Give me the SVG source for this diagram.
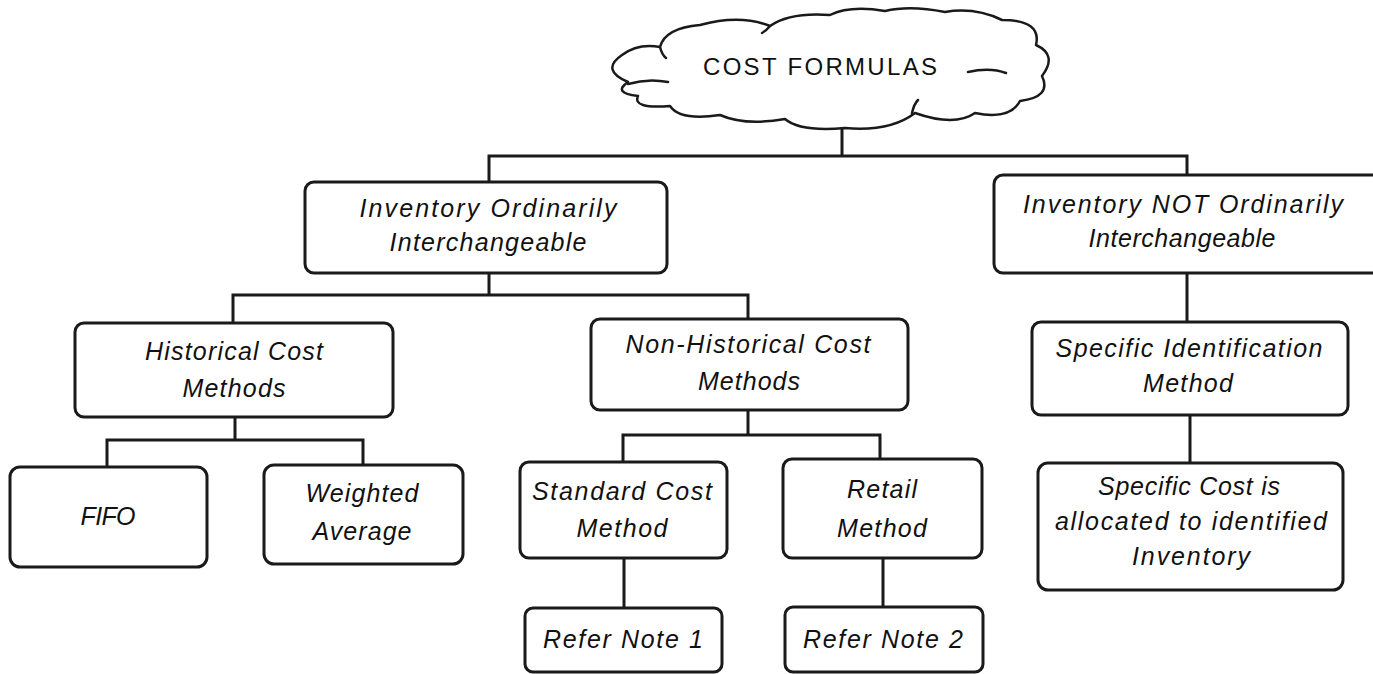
<svg xmlns="http://www.w3.org/2000/svg" width="1373" height="674" viewBox="0 0 1373 674">
<style>
.box{fill:#fff;stroke:#1a1a1a;stroke-width:3}
.ln{fill:none;stroke:#1a1a1a;stroke-width:3;stroke-linecap:square}
.cl{fill:#fff;stroke:#1a1a1a;stroke-width:2.5;stroke-linejoin:round}
.hk{fill:none;stroke:#1a1a1a;stroke-width:2.5;stroke-linecap:round}
text{font-family:"Liberation Sans",Arial,sans-serif;font-style:italic;font-size:25px;fill:#111;text-anchor:middle}
</style>
<rect width="1373" height="674" fill="#fff"/>
<g id="connectors">
<path class="ln" d="M842,128 V156 M489,156 H1187 M489,156 V182 M1187,156 V175"/>
<path class="ln" d="M489,273 V295 M233,295 H748 M233,295 V323 M748,295 V319"/>
<path class="ln" d="M235,417 V440 M107,440 H363 M107,440 V467 M363,440 V465"/>
<path class="ln" d="M748,410 V435 M623,435 H880 M623,435 V462 M880,435 V459"/>
<path class="ln" d="M624,558 V608 M883,558 V607"/>
<path class="ln" d="M1187,273 V322 M1190,415 V463"/>
</g>
<g id="cost-formulas">
<path class="cl" d="M628,82 Q600,70 622,55 Q638,43 660,47 Q665,28 700,25 Q740,14 770,26 Q790,12 830,15 Q850,5 885,11 Q910,5 945,12 Q975,7 1002,20 Q1042,20 1036,45 Q1058,55 1042,76 Q1052,97 1020,101 Q1010,120 975,113 Q955,127 915,113 Q890,132 845,128 Q800,132 785,119 Q745,126 720,115 Q680,121 670,106 Q632,109 638,96 Q612,93 628,82 Z"/>
<path class="hk" d="M628,84 Q648,78 668,82 M968,72 Q990,67 1006,73 M912,113 Q914,104 918,100 M660,47 Q662,55 666,58 M770,26 Q766,31 762,33"/>
<text x="820" y="75" textLength="234" style="font-style:normal;font-size:24px">COST FORMULAS</text>
</g>
<g id="inv-ordinarily">
<rect class="box" x="305" y="182" width="362" height="91" rx="9"/>
<text x="488" y="217" textLength="257">Inventory Ordinarily</text>
<text x="488" y="251" textLength="197">Interchangeable</text>
</g>
<g id="inv-not-ordinarily">
<rect class="box" x="994" y="175" width="395" height="98" rx="9"/>
<text x="1183" y="213" textLength="320">Inventory NOT Ordinarily</text>
<text x="1182" y="247" textLength="187">Interchangeable</text>
</g>
<g id="historical">
<rect class="box" x="75" y="323" width="318" height="94" rx="9"/>
<text x="234" y="360" textLength="178">Historical Cost</text>
<text x="234" y="397" textLength="103">Methods</text>
</g>
<g id="non-historical">
<rect class="box" x="591" y="319" width="317" height="91" rx="9"/>
<text x="748" y="353" textLength="245">Non-Historical Cost</text>
<text x="749" y="390" textLength="102">Methods</text>
</g>
<g id="specific-identification">
<rect class="box" x="1032" y="322" width="316" height="93" rx="9"/>
<text x="1189" y="357" textLength="267">Specific Identification</text>
<text x="1188" y="392" textLength="90">Method</text>
</g>
<g id="fifo">
<rect class="box" x="10" y="467" width="197" height="100" rx="10"/>
<text x="108" y="525" textLength="55">FIFO</text>
</g>
<g id="weighted-average">
<rect class="box" x="264" y="465" width="199" height="99" rx="10"/>
<text x="362" y="502" textLength="113">Weighted</text>
<text x="362" y="540" textLength="99">Average</text>
</g>
<g id="standard-cost">
<rect class="box" x="520" y="462" width="207" height="96" rx="9"/>
<text x="622" y="500" textLength="180">Standard Cost</text>
<text x="622" y="537" textLength="91">Method</text>
</g>
<g id="retail">
<rect class="box" x="783" y="459" width="199" height="99" rx="9"/>
<text x="882" y="498" textLength="70">Retail</text>
<text x="882" y="537" textLength="90">Method</text>
</g>
<g id="specific-cost">
<rect class="box" x="1038" y="463" width="305" height="127" rx="10"/>
<text x="1189" y="495" textLength="182">Specific Cost is</text>
<text x="1191" y="530" textLength="272">allocated to identified</text>
<text x="1191" y="565" textLength="118">Inventory</text>
</g>
<g id="refer-note-1">
<rect class="box" x="525" y="608" width="197" height="64" rx="8"/>
<text x="623" y="648" textLength="160">Refer Note 1</text>
</g>
<g id="refer-note-2">
<rect class="box" x="785" y="607" width="198" height="65" rx="8"/>
<text x="883" y="648" textLength="160">Refer Note 2</text>
</g>
</svg>
